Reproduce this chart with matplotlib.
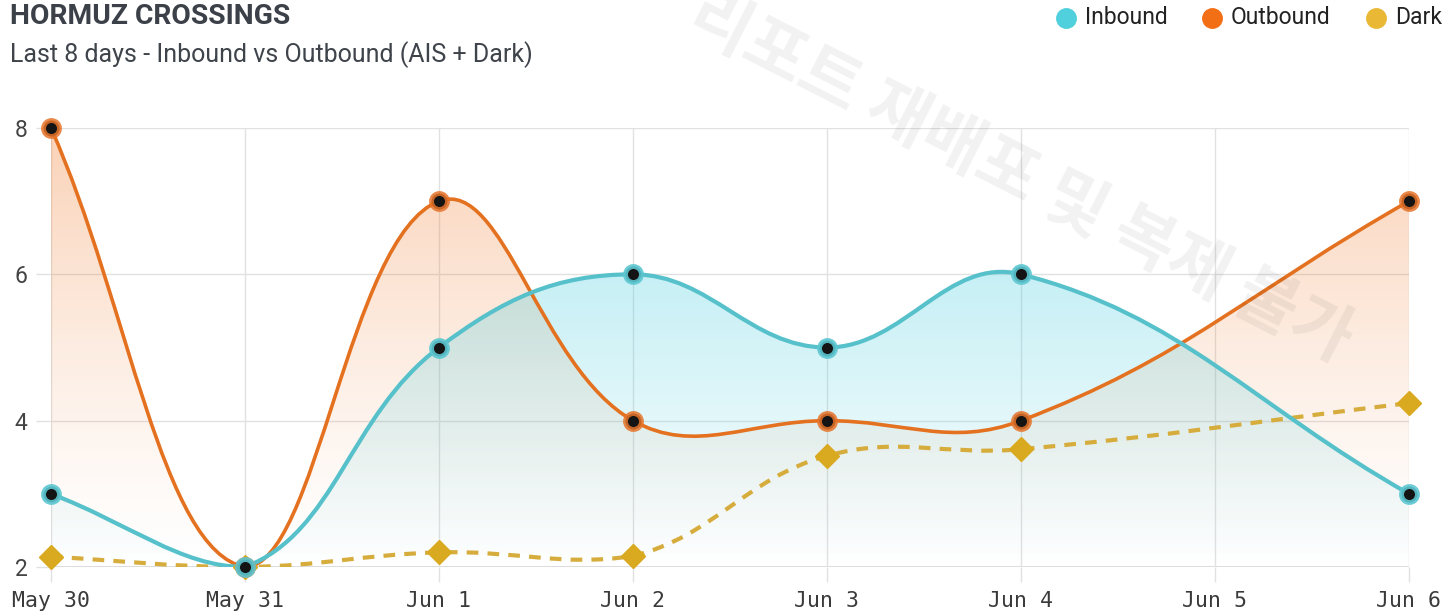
import numpy as np
import matplotlib
matplotlib.use('Agg')
import matplotlib.pyplot as plt
from matplotlib.path import Path
from matplotlib.patches import PathPatch
from matplotlib.lines import Line2D

# data (Jun 5 has no value, lines span the gap)
days = ['May 30', 'May 31', 'Jun 1', 'Jun 2', 'Jun 3', 'Jun 4', 'Jun 5', 'Jun 6']
inbound = [3, 2, 5, 6, 5, 6, None, 3]
outbound = [8, 2, 7, 4, 4, 4, None, 7]
dark = [2.14, 2.0, 2.2, 2.15, 3.52, 3.61, None, 4.24]
yticks = [2, 4, 6, 8]

YMIN, YMAX = 2, 8


def spline(vals, t=0.4, sx=194.0, sy=73.2):
    # chart.js style bezier spline (tension 0.4), distances in pixel space
    pts = [(i, v) for i, v in enumerate(vals) if v is not None]
    x = np.array([p[0] for p in pts], float)
    y = np.array([p[1] for p in pts], float)
    n = len(x)
    cprev, cnext = [], []
    for i in range(n):
        p = max(i - 1, 0)
        q = min(i + 1, n - 1)
        d01 = np.hypot((x[i] - x[p]) * sx, (y[i] - y[p]) * sy)
        d12 = np.hypot((x[q] - x[i]) * sx, (y[q] - y[i]) * sy)
        tot = d01 + d12
        s01 = d01 / tot if tot else 0
        s12 = d12 / tot if tot else 0
        fa, fb = t * s01, t * s12
        dx, dy = x[q] - x[p], y[q] - y[p]
        cprev.append((x[i] - fa * dx, np.clip(y[i] - fa * dy, YMIN, YMAX)))
        cnext.append((x[i] + fb * dx, np.clip(y[i] + fb * dy, YMIN, YMAX)))
    verts = [(x[0], y[0])]
    codes = [Path.MOVETO]
    for i in range(n - 1):
        verts += [cnext[i], cprev[i + 1], (x[i + 1], y[i + 1])]
        codes += [Path.CURVE4] * 3
    return x, y, verts, codes


def grad_fill(ax, verts, codes, x0, x1, rgb, a_top, z, power=1.0):
    fv = verts + [(x1, YMIN), (x0, YMIN), (x0, YMIN)]
    fc = codes + [Path.LINETO, Path.LINETO, Path.CLOSEPOLY]
    patch = PathPatch(Path(fv, fc), facecolor='none', edgecolor='none')
    ax.add_patch(patch)
    g = np.zeros((256, 1, 4))
    g[:, :, :3] = rgb
    g[:, 0, 3] = a_top * np.linspace(1, 0, 256) ** power
    im = ax.imshow(g, extent=[0, len(days) - 1, YMIN, YMAX], aspect='auto',
                   origin='upper', zorder=z, interpolation='bilinear')
    im.set_clip_path(patch)


fig = plt.figure(figsize=(14.53, 6.16), dpi=100)
ax = fig.add_axes([51 / 1453, 49 / 616, 1358 / 1453, 439 / 616])

teal = (0.30, 0.81, 0.88)
orange = (0.94, 0.45, 0.12)

xo, yo, vo, co = spline(outbound)
xi, yi, vi, ci = spline(inbound)
xd, yd, vd, cd = spline(dark)

grad_fill(ax, vo, co, xo[0], xo[-1], orange, 0.32, 1, power=1.25)
grad_fill(ax, vi, ci, xi[0], xi[-1], teal, 0.48, 1.1, power=1.0)

# lines
ax.add_patch(PathPatch(Path(vd, cd), facecolor='none', edgecolor='#d6ad3d',
                       lw=3.0, linestyle=(0, (2.8, 2.2)), zorder=3))
ax.add_patch(PathPatch(Path(vo, co), facecolor='none', edgecolor='#e4711f',
                       lw=2.6, zorder=4, capstyle='round'))
ax.add_patch(PathPatch(Path(vi, ci), facecolor='none', edgecolor='#56c1ca',
                       lw=3.0, zorder=5, capstyle='round'))

# points
ax.plot(xd, yd, ls='none', marker='D', ms=12.5, mfc='#d9a920', mec='#d9a920',
        mew=1, zorder=6, clip_on=False)
ax.plot(xo, yo, ls='none', marker='o', ms=11.5, mfc='#141414',
        mec=(0.90, 0.45, 0.16, 0.85), mew=3.5, zorder=7, clip_on=False)
ax.plot(xi, yi, ls='none', marker='o', ms=11.5, mfc='#141414',
        mec=(0.36, 0.78, 0.82, 0.9), mew=3.5, zorder=8, clip_on=False)

ax.set_xlim(0, len(days) - 1)
ax.set_ylim(YMIN, YMAX)
ax.set_xticks(range(len(days)))
ax.set_xticklabels(days, family='DejaVu Sans Mono', fontsize=15.5, color='#3a3a3a')
ax.set_yticks(yticks)
ax.set_yticklabels([str(v) for v in yticks], family='Roboto', fontsize=16.5, color='#444444')
ax.grid(True, color='#e1e1e1', lw=1.0, zorder=0)
ax.set_axisbelow(True)
for s in ax.spines.values():
    s.set_visible(False)
ax.tick_params(axis='x', length=11, width=1.0, color='#e1e1e1', pad=6)
ax.tick_params(axis='y', length=11, width=1.0, color='#e1e1e1', pad=6)
ax.axhline(YMIN, color='#d2d2d2', lw=1.1, zorder=0.5)

# title & subtitle
fig.text(10 / 1453, 1 - 17 / 616, 'HORMUZ CROSSINGS', family='Roboto', weight='bold',
         fontsize=20.3, color='#3c4149', va='center', ha='left')
fig.text(10 / 1453, 1 - 55 / 616, 'Last 8 days - Inbound vs Outbound (AIS + Dark)',
         family='Roboto', fontsize=18, color='#3f444b', va='center', ha='left')

# legend
leg_items = [('Inbound', '#4fd0dc', 1066), ('Outbound', '#f36f16', 1212), ('Dark', '#e9b834', 1376)]
for label, col, cx in leg_items:
    fig.add_artist(Line2D([cx / 1453], [1 - 18 / 616], marker='o', ms=14, color=col,
                          mec=col, ls='none', transform=fig.transFigure))
    fig.text((cx + 19) / 1453, 1 - 18 / 616, label, family='Roboto', fontsize=16.5,
             color='#222222', va='center', ha='left')

# watermark
fig.text(1020 / 1453, 1 - 178 / 616, '리포트 재배포 및 복제 불가',
         family=['Noto Sans CJK KR', 'DejaVu Sans'], weight='bold', fontsize=48,
         color='#000000', alpha=0.055, rotation=-27, rotation_mode='anchor',
         ha='center', va='center', zorder=20)

fig.savefig('out.png', dpi=100, facecolor='white')
